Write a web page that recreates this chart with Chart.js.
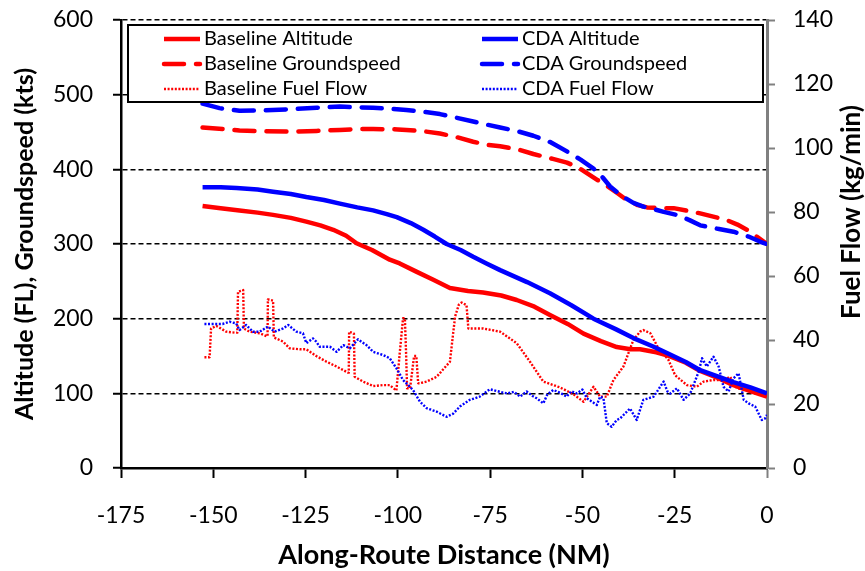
<!DOCTYPE html>
<html><head><meta charset="utf-8">
<script src="https://cdn.jsdelivr.net/npm/chart.js@4.4.1/dist/chart.umd.min.js"></script>
<style>html,body{margin:0;padding:0;background:#fff;}#wrap{width:865px;height:571px;position:relative;}</style>
</head><body><div id="wrap"><canvas id="c" width="865" height="571"></canvas></div>
<script>
const seriesNames = ["Baseline Altitude","CDA Altitude","Baseline Groundspeed","CDA Groundspeed","Baseline Fuel Flow","CDA Fuel Flow"];
const xTitle = "Along-Route Distance (NM)";
const leftTitle = "Altitude (FL), Groundspeed (kts)";
const rightTitle = "Fuel Flow (kg/min)";

const baseAltX = [-152.9,-148,-142.9,-138,-133.8,-129,-124.8,-121,-117.5,-114,-111.2,-107,-102.2,-99.5,-95,-90.4,-85.9,-81,-76.9,-72,-67.8,-63,-58.8,-54,-49.7,-45,-40.7,-37,-34.4,-30,-27.1,-22,-18.1,-13,-9.1,-4.5,0];
const baseAltY = [351,348,345,342,339,335,330,325,319,311,301,292,279,274,263,252,241,237,235,231,225,216,205,193,180,170,162,159,159,155,151,141,130,120,111,103,95.5];

const cdaAltX = [-152.9,-148,-143.7,-138,-133.8,-129,-124.8,-120,-115.7,-111,-106.7,-103,-100.3,-96.5,-93.1,-90,-86.8,-83,-79.6,-76,-72.3,-65,-58.8,-53,-47,-41,-36.2,-31,-27.1,-22,-18.1,-13,-9.1,-4.5,0];
const cdaAltY = [376,376,375,373,370,367,363,359,354,349,345,340,336,328,319,310,300,292,283,274,265,249,234,218,200,186,174,163,154,142,131,122,115,108,100];

const baseGsX = [-152.9,-147.5,-142.9,-136,-129.3,-122,-115.7,-110,-106.7,-100,-97.7,-93,-88.6,-84,-79.6,-76,-72.3,-67,-63.3,-58,-54.2,-51,-48.8,-46,-43.4,-40.5,-38,-35,-32.5,-28,-25.3,-21,-18.1,-14,-10.9,-8,-5.4,-2.5,0];
const baseGsY = [456,454,452,451,450.5,451.5,452.7,454,454,453.5,452.7,451,448,443,437,433,431,426,420.5,414,409,402,395,386,378,368,359,352,349,348,348,344,341,336,332,326,319,309,300];

const cdaGsX = [-152.9,-148.3,-142.9,-136,-129.3,-122,-115.7,-110,-106.7,-102,-97.7,-93,-88.6,-84,-79.6,-76,-72.3,-67.5,-63.3,-58.5,-54.2,-50.5,-47,-44.5,-42.5,-39.5,-36.2,-33.5,-31.6,-28,-24.5,-21,-18.1,-13,-9.1,-5,-1.8,0];
const cdaGsY = [488,482,478.5,479,480.5,482.5,484,483,482.5,481,479.5,477,474,469,464,460,456,451,445,436,424,413,401,389,377,365,355,350,348,343,339,332,325,320,316.5,310,303,300];

const baseFfX = [-152.4,-151,-150.6,-149.2,-147.8,-146.5,-144.2,-143.5,-143.3,-141.9,-141.7,-140.2,-137.4,-135.6,-135.3,-135.2,-133.8,-133.6,-131.1,-129.3,-126.6,-124.8,-122.1,-119.3,-116.6,-113.5,-113.3,-113.2,-112.1,-111.9,-111.7,-109.4,-106.7,-104,-102.2,-100.4,-99.5,-98.6,-98.1,-97.8,-97.5,-96.7,-95.6,-95,-94.5,-94,-92.2,-89.5,-85.9,-84.5,-83.5,-82.7,-81.4,-80.9,-76.9,-72.3,-67.8,-64.2,-60.6,-56.1,-52.5,-49.7,-47,-45.2,-43.4,-41.6,-38.9,-36.2,-34.4,-33.5,-31.6,-29.4,-26.7,-24.9,-21.7,-19,-17.2,-14.5,-11.8,-10,-8.1,-5.4,-2.7,0];
const baseFfY = [34.6,34.6,43.6,44.4,43.5,42.6,42.3,42.3,55.1,55.6,43.6,42.6,42.1,41.2,41.2,52.7,52.3,40.8,39.5,37.4,37.1,37.1,35,33.2,31.7,29.8,29.8,42.6,42.1,42,28.5,27,25.6,25.9,25.9,24.2,35.8,46.8,46.8,36.9,24.9,24.9,35,35,26.5,26.5,27,28.5,33.2,47.3,51,51.7,50.9,43.6,43.6,42.6,39,33.2,27,25.2,23.1,20.7,25.4,22.3,22.3,27.5,31.7,40,42.6,43.1,42.1,37.4,33.8,29,25.9,25.4,27,27.5,27.5,28.5,24.9,24.4,23.3,22.8];

const cdaFfX = [-152.4,-147.5,-145.6,-143.8,-142.9,-141.1,-139.3,-137.4,-135.2,-133.4,-131.1,-129.7,-127.5,-125.7,-124.8,-123,-122.1,-121.2,-118.4,-116.6,-114.8,-113,-110.8,-108.5,-106.7,-104,-102.2,-100.4,-98.6,-95.9,-94,-92.2,-89.5,-86.8,-85,-83.2,-80.5,-77.8,-75.1,-73,-70.5,-68.5,-66.9,-65.1,-63.5,-62.4,-60.6,-59.5,-57.9,-56,-54.3,-53,-51.5,-50,-48.8,-46.1,-45.2,-44.3,-43.4,-42.1,-40.7,-39.8,-37.1,-35.3,-33.5,-30.7,-28,-27,-26.2,-24.4,-22.6,-20.8,-18.5,-17.6,-16.3,-14.5,-13.1,-11.8,-10.4,-9.1,-7.7,-6.3,-5,-3.2,-1.4,-0.5,0];
const cdaFfY = [45,45,45.7,45.2,43.1,44.7,42.6,42.6,44.2,42.6,43.6,44.7,42.6,42.1,39,40.5,39.5,37.9,37.9,36.3,38.4,37.4,40.2,38.4,36.3,35.3,34.3,31.2,27.5,24.4,20.7,18.7,17.6,16,17,19.2,21.3,22.3,24.6,24,23.3,23.8,22.3,23.9,22.5,21.8,20.2,23,24.4,23.5,22.3,24,23.3,24.5,21.8,19.7,22.3,21.8,14,12.9,15,15.5,18.6,15,21.3,22.3,27,24,23.3,24.9,21.3,23.3,30.1,34.3,31.7,34.8,31.7,25.4,23.9,28,29.6,21.3,20.2,19.2,15,15.5,16.6];

const xMin = -175, xMax = 0, xStep = 25;
const leftMin = 0, leftMax = 600, leftStep = 100;
const rightMin = 0, rightMax = 140, rightStep = 20;

const FONT = "Lato, 'Open Sans', sans-serif";
const RED = "#ff0000", BLUE = "#0000ff";

function pts(xs, ys){ return xs.map((x,i)=>({x:x, y:ys[i]})); }

const datasets = [
  {label: seriesNames[0], data: pts(baseAltX, baseAltY), borderColor: RED, borderWidth: 4.5, yAxisID:'y', order: 1},
  {label: seriesNames[1], data: pts(cdaAltX, cdaAltY), borderColor: BLUE, borderWidth: 4.5, yAxisID:'y', order: 0},
  {label: seriesNames[2], data: pts(baseGsX, baseGsY), borderColor: RED, borderWidth: 4.5, borderDash:[20,12], borderCapStyle:'round', yAxisID:'y', order: 1},
  {label: seriesNames[3], data: pts(cdaGsX, cdaGsY), borderColor: BLUE, borderWidth: 4.5, borderDash:[20,12], borderCapStyle:'round', yAxisID:'y', order: 0},
  {label: seriesNames[4], data: pts(baseFfX, baseFfY), borderColor: RED, borderWidth: 2.4, borderDash:[2,1.6], yAxisID:'y2', order: 1},
  {label: seriesNames[5], data: pts(cdaFfX, cdaFfY), borderColor: BLUE, borderWidth: 2.4, borderDash:[2,1.6], yAxisID:'y2', order: 0}
];
datasets.forEach(d=>{ d.pointRadius = 0; d.fill = false; d.tension = 0; d.borderJoinStyle = 'round'; d.backgroundColor = d.borderColor; });

const boxLegend = {
  id: 'boxLegend',
  afterDatasetsDraw(chart){
    const ctx = chart.ctx, a = chart.chartArea;
    const bx = a.left + 7, by = a.top + 5, bw = a.right - a.left - 11, bh = 77;
    ctx.save();
    ctx.fillStyle = '#fff';
    ctx.fillRect(bx, by, bw, bh);
    ctx.strokeStyle = '#000'; ctx.lineWidth = 2;
    ctx.strokeRect(bx, by, bw, bh);
    ctx.font = "20px " + FONT;
    ctx.textBaseline = 'middle';
    ctx.fillStyle = '#000';
    const rows = [[0,1],[2,3],[4,5]];
    const colX = [bx + 34, bx + 352];
    rows.forEach((r, ri) => {
      const yy = by + 14 + ri * 25;
      r.forEach((di, ci) => {
        const ds = chart.data.datasets[di];
        const x0 = colX[ci];
        ctx.save();
        ctx.strokeStyle = ds.borderColor;
        ctx.lineWidth = ds.borderWidth;
        ctx.setLineDash(ds.borderDash || []);
        ctx.lineCap = ds.borderDash && ds.borderDash[0] > 5 ? 'round' : 'butt';
        ctx.beginPath(); ctx.moveTo(x0 + 2, yy); ctx.lineTo(x0 + 38, yy); ctx.stroke();
        ctx.restore();
        ctx.fillText(ds.label, x0 + 42, yy);
      });
    });
    ctx.restore();
  }
};

const rightTitlePlugin = {
  id: 'rightTitle',
  afterDraw(chart){
    const ctx = chart.ctx, a = chart.chartArea;
    ctx.save();
    ctx.translate(a.right + 85, (a.top + a.bottom) / 2 - 32);
    ctx.rotate(-Math.PI / 2);
    ctx.font = "bold 26px " + FONT;
    ctx.fillStyle = '#000';
    ctx.textAlign = 'center'; ctx.textBaseline = 'middle';
    ctx.fillText(rightTitle, 0, 0);
    ctx.restore();
  }
};

function noVPad(s){ s.paddingTop = 0; s.paddingBottom = 0; }

new Chart(document.getElementById('c'), {
  type: 'line',
  data: { datasets: datasets },
  options: {
    responsive: false, animation: false, devicePixelRatio: 1,
    layout: { padding: { top: 20, left: 0, right: 0, bottom: 0 } },
    plugins: { legend: { display: false }, tooltip: { enabled: false } },
    scales: {
      x: {
        type: 'linear', min: xMin, max: xMax,
        ticks: { stepSize: xStep, color: '#000', font: { family: FONT, size: 23 }, padding: 24, maxRotation: 0 },
        grid: { drawOnChartArea: false, tickLength: 10, tickColor: c => (c.tick && c.tick.value === 0) ? '#808080' : '#000', tickWidth: 2 },
        border: { color: '#000', width: 2.5 },
        title: { display: true, text: xTitle, color: '#000', font: { family: FONT, size: 27, weight: 'bold' }, padding: { top: 0, bottom: 0 } },
        afterFit(s){ s.height = 103; }
      },
      y: {
        position: 'left', min: leftMin, max: leftMax,
        ticks: { stepSize: leftStep, color: '#000', font: { family: FONT, size: 23 }, padding: 20 },
        grid: { color: c => (c.tick && c.tick.value === 0) ? 'rgba(0,0,0,0)' : '#000', lineWidth: 1.5, tickColor: '#000', tickLength: 8, tickWidth: 2 },
        border: { color: '#000', width: 2.5, dash: [5,3] },
        title: { display: true, text: leftTitle, color: '#000', font: { family: FONT, size: 25, weight: 'bold' }, padding: { top: 10, bottom: 0 } },
        afterFit(s){ s.width = 121; noVPad(s); }
      },
      y2: {
        position: 'right', min: rightMin, max: rightMax,
        ticks: { stepSize: rightStep, color: '#000', font: { family: FONT, size: 23 }, padding: 18 },
        grid: { drawOnChartArea: false, tickColor: '#808080', tickLength: 8, tickWidth: 2 },
        border: { color: '#808080', width: 3 },
        afterFit(s){ s.width = 98; noVPad(s); }
      }
    }
  },
  plugins: [boxLegend, rightTitlePlugin]
});
</script>
</body></html>
